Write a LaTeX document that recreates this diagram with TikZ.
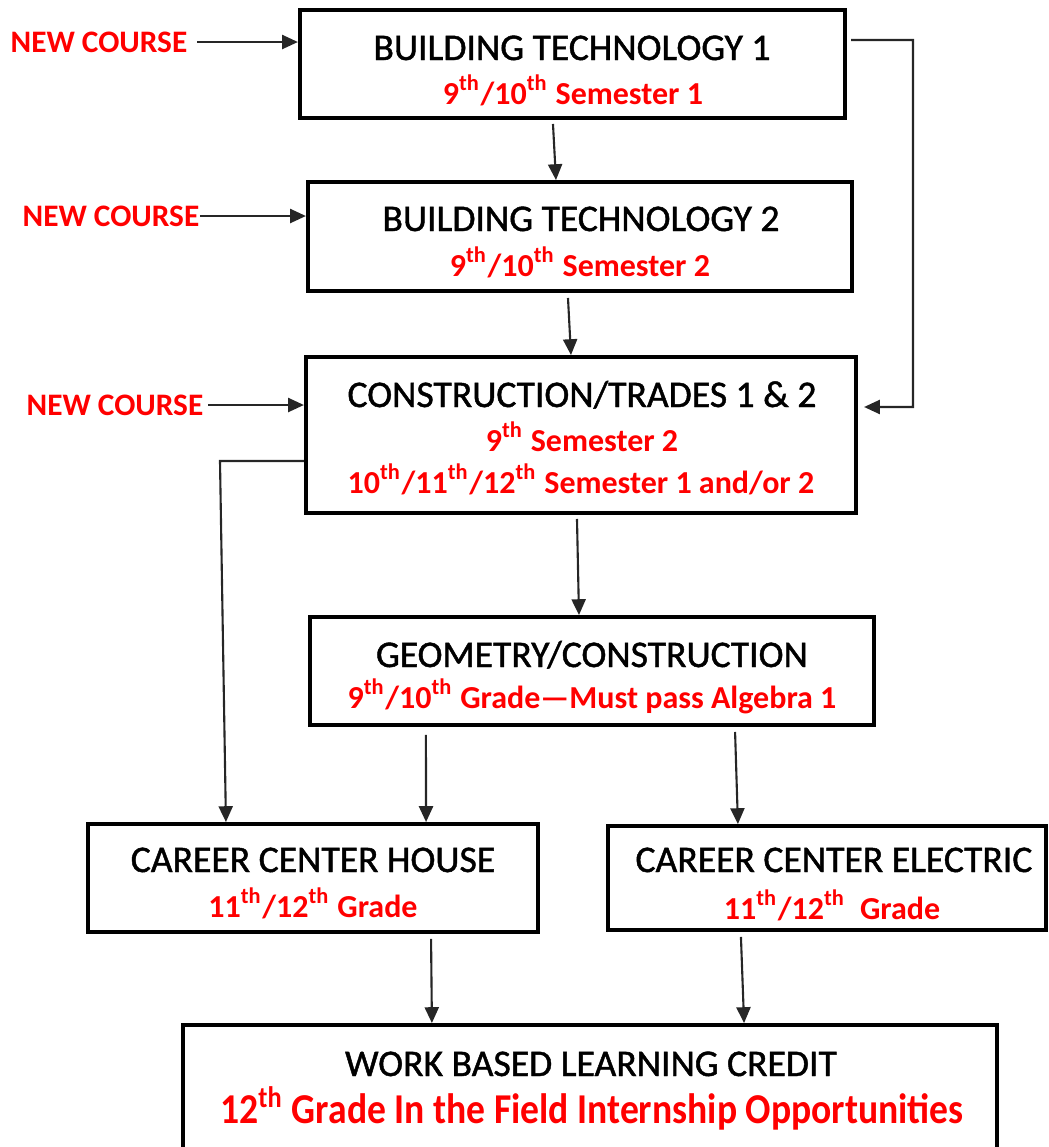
\documentclass[tikz,border=0pt]{standalone}
\usepackage{fontspec}
\setmainfont{Carlito}
\newfontfamily\ttlfont[FakeBold=1.2]{Carlito}
\usetikzlibrary{arrows.meta}
\definecolor{ared}{RGB}{255,0,0}
\tikzset{
  box/.style={draw=black, line width=1.1pt, inner sep=0pt, fill=none},
  ttl/.style={anchor=base, inner sep=0pt, font=\ttlfont\fontsize{10.7}{12}\selectfont, text=black},
  sub/.style={anchor=base, inner sep=0pt, font=\bfseries\fontsize{9.1}{11}\selectfont, text=ared},
  nc/.style={anchor=east, inner sep=0pt, font=\bfseries\fontsize{8.9}{11}\selectfont, text=ared},
  arr/.style={-{Triangle[length=4.5pt,width=4pt]}, line width=0.6pt, draw=black!85},
  ln/.style={line width=0.6pt, draw=black!85}
}
\newcommand{\thsup}{\textsuperscript{th}}
\begin{document}
\begin{tikzpicture}[x=0.01cm,y=-0.01cm]
\useasboundingbox (0,0) rectangle (1049,1147);
\clip (0,0) rectangle (1049,1147);
% boxes
\node[box, minimum width=5.45cm, minimum height=1.08cm] (bt1) at (572.5,64) {};
\node[box, minimum width=5.44cm, minimum height=1.09cm] (bt2) at (580,236.5) {};
\node[box, minimum width=5.50cm, minimum height=1.56cm] (ct) at (581,435) {};
\node[box, minimum width=5.64cm, minimum height=1.08cm] (geo) at (592,671) {};
\node[box, minimum width=4.50cm, minimum height=1.08cm] (cch) at (313,878) {};
\node[box, minimum width=4.38cm, minimum height=1.04cm] (cce) at (827,878) {};
\node[box, minimum width=8.14cm, minimum height=1.40cm] (wbl) at (590,1095) {};
% texts
\node[ttl] (bt1a) at (572,60) {BUILDING TECHNOLOGY 1};
\node[sub] (bt1b) at (573,104) {9\thsup/10\thsup{} Semester 1};
\node[ttl] (bt2a) at (581,231) {BUILDING TECHNOLOGY 2};
\node[sub] (bt2b) at (580,276) {9\thsup/10\thsup{} Semester 2};
\node[ttl] (cta) at (582,407) {CONSTRUCTION/TRADES 1 \& 2};
\node[sub] (ctb) at (582,451) {9\thsup{} Semester 2};
\node[sub] (ctc) at (581,493) {10\thsup/11\thsup/12\thsup{} Semester 1 and/or 2};
\node[ttl] (geoa) at (592,667) {GEOMETRY/CONSTRUCTION};
\node[sub] (geob) at (592,708) {9\thsup/10\thsup{} Grade—Must pass Algebra 1};
\node[ttl] (ccha) at (313,872) {CAREER CENTER HOUSE};
\node[sub] (cchb) at (313,917) {11\thsup/12\thsup{} Grade};
\node[ttl] (ccea) at (834,872) {CAREER CENTER ELECTRIC};
\node[sub] (cceb) at (832,919) {11\thsup/12\thsup{}\ \ Grade};
\node[ttl] (wbla) at (591,1076) {WORK BASED LEARNING CREDIT};
\node[sub, font=\bfseries\fontsize{10.7}{13}\selectfont] (wblb) at (592,1123) {\scalebox{1}[1.13]{12\thsup{} Grade In the Field Internship Opportunities}};
% new course labels
\node[nc] (nc1) at (188,42) {NEW COURSE};
\node[nc] (nc2) at (200,216) {NEW COURSE};
\node[nc] (nc3) at (204,405) {NEW COURSE};
% connectors
\draw[arr] ([xshift=0.09cm]nc1.east) -- (nc1.east -| bt1.west);
\draw[arr] (nc2.east) -- (nc2.east -| bt2.west);
\draw[arr] ([xshift=0.04cm]nc3.east) -- (nc3.east -| ct.west);
\draw[arr] ([xshift=-0.195cm,yshift=-0.04cm]bt1.south) -- ([xshift=-0.24cm]bt2.north);
\draw[arr] ([xshift=-0.12cm,yshift=-0.05cm]bt2.south) -- ([xshift=-0.10cm]ct.north);
\draw[arr] ([xshift=-0.04cm,yshift=-0.04cm]ct.south) -- ([xshift=-0.13cm]geo.north);
\draw[arr] ([xshift=-1.66cm,yshift=-0.08cm]geo.south) -- ([xshift=1.13cm]cch.north);
\draw[arr] ([xshift=1.43cm,yshift=-0.05cm]geo.south) -- ([xshift=-0.89cm]cce.north);
\draw[arr] ([xshift=1.18cm,yshift=-0.05cm]cch.south) -- ([xshift=-1.58cm]wbl.north);
\draw[arr] ([xshift=-0.86cm,yshift=-0.05cm]cce.south) -- ([xshift=1.54cm]wbl.north);
\coordinate (rc) at (913,40);
\draw[arr] ([xshift=0.04cm,yshift=0.24cm]bt1.east) -- (rc) |- ([xshift=0.06cm,yshift=0.28cm]ct.east);
\coordinate (lc) at (220,461);
\draw[arr] ([yshift=-0.26cm]ct.west) -- (lc) -- ([xshift=-0.87cm]cch.north);
\end{tikzpicture}
\end{document}
